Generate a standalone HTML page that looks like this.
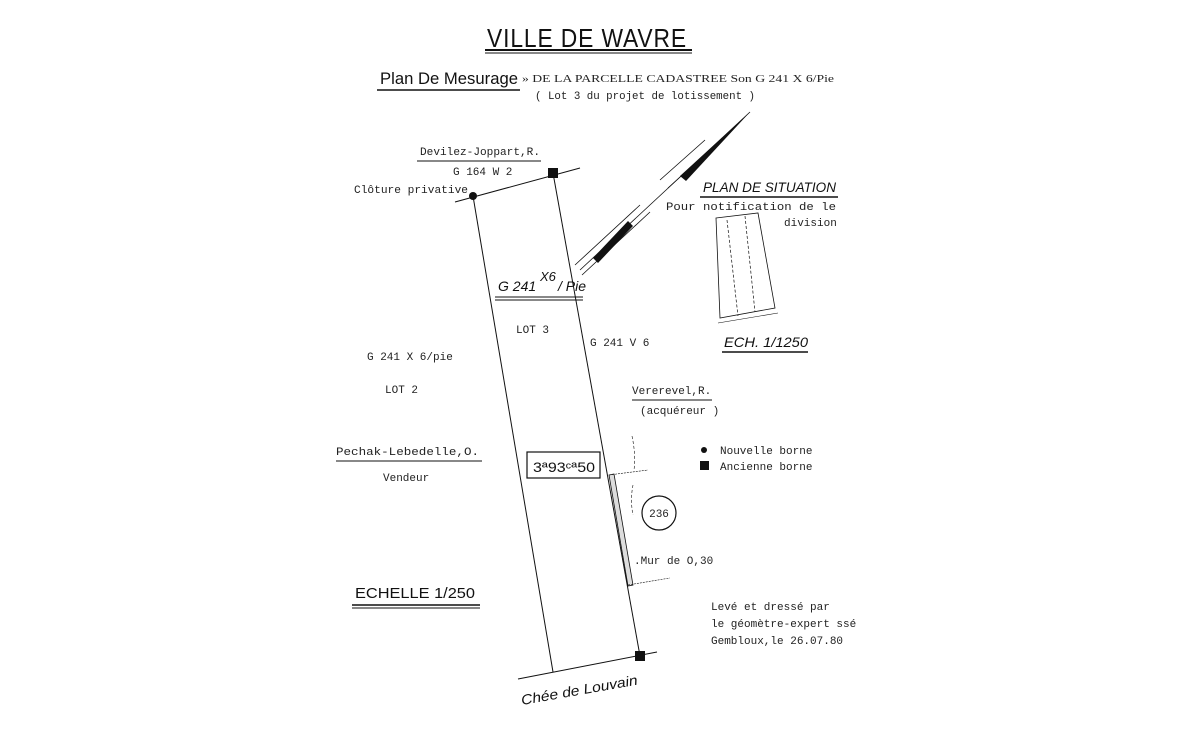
<!DOCTYPE html>
<html><head><meta charset="utf-8"><style>
html,body{margin:0;padding:0;background:#fff}
svg{display:block}
.m{font-family:"Liberation Mono",monospace;font-size:11px;fill:#222}
.s{font-family:"Liberation Sans",sans-serif;fill:#111}
.i{font-family:"Liberation Sans",sans-serif;font-style:italic;fill:#111}
</style></head><body>
<svg width="1200" height="730" viewBox="0 0 1200 730" xmlns="http://www.w3.org/2000/svg">
<g stroke="#111" fill="none">
<!-- title -->
<line x1="485" y1="50" x2="692" y2="50" stroke-width="2"/>
<line x1="485" y1="53" x2="692" y2="53" stroke-width="1"/>
<line x1="377" y1="90" x2="520" y2="90" stroke-width="1.5"/>
<!-- parcel -->
<line x1="473" y1="196" x2="553" y2="672" stroke-width="1"/>
<line x1="553" y1="173" x2="640" y2="656" stroke-width="1"/>
<line x1="455" y1="202" x2="580" y2="168" stroke-width="1"/>
<line x1="518" y1="679" x2="657" y2="652" stroke-width="1"/>
<!-- labels underlines -->
<line x1="417" y1="161" x2="541" y2="161" stroke-width="1"/>
<line x1="495" y1="297" x2="583" y2="297" stroke-width="1"/>
<line x1="495" y1="300" x2="583" y2="300" stroke-width="1"/>
<line x1="632" y1="400" x2="712" y2="400" stroke-width="1"/>
<line x1="336" y1="461" x2="482" y2="461" stroke-width="1"/>
<line x1="700" y1="197" x2="838" y2="197" stroke-width="1.5"/>
<line x1="722" y1="352" x2="808" y2="352" stroke-width="1.5"/>
<line x1="352" y1="605" x2="480" y2="605" stroke-width="1.5"/>
<line x1="352" y1="608" x2="480" y2="608" stroke-width="1"/>
<!-- north arrow -->
<line x1="575" y1="265" x2="640" y2="205" stroke-width="0.8"/>
<line x1="582" y1="275" x2="650" y2="212" stroke-width="0.8"/>
<line x1="660" y1="180" x2="705" y2="140" stroke-width="0.8"/>
<line x1="668" y1="188" x2="712" y2="148" stroke-width="0.8"/>
<line x1="580" y1="270" x2="750" y2="112" stroke-width="0.8"/>
<polygon points="593,258 598,263 633,226 628,221" fill="#111" stroke="none"/>
<polygon points="680,176 686,181 750,112" fill="#111" stroke="none"/>
<!-- box -->
<rect x="527" y="452" width="73" height="26" stroke-width="1.2"/>
<circle cx="659" cy="513" r="17" stroke-width="1.2"/>
<!-- mur -->
<polygon points="609,475 614,474 633,585 628,586" stroke-width="0.8" fill="#ddd"/>
<line x1="609" y1="475" x2="648" y2="470" stroke-width="0.6" stroke-dasharray="2,1"/>
<line x1="628" y1="585" x2="670" y2="578" stroke-width="0.6" stroke-dasharray="2,1"/>
<path d="M632,436 Q636,455 634,470 M633,485 Q630,500 633,515" stroke-width="0.6" stroke-dasharray="3,2"/>
<!-- situation sketch -->
<polygon points="716,218 758,213 775,308 720,318" stroke-width="0.8"/>
<line x1="727" y1="220" x2="738" y2="316" stroke-width="0.7" stroke-dasharray="3,2"/>
<line x1="745" y1="216" x2="755" y2="312" stroke-width="0.7" stroke-dasharray="3,2"/>
<line x1="718" y1="323" x2="778" y2="313" stroke-width="0.6"/>
</g>
<circle cx="473" cy="196" r="4" fill="#111"/>
<rect x="548" y="168" width="10" height="10" fill="#111"/>
<rect x="635" y="651" width="10" height="10" fill="#111"/>
<circle cx="704" cy="450" r="3" fill="#111"/>
<rect x="700" y="461" width="9" height="9" fill="#111"/>

<text x="587" y="47" class="s" font-size="26" text-anchor="middle" letter-spacing="1" textLength="200" lengthAdjust="spacingAndGlyphs">VILLE  DE  WAVRE</text>
<text x="380" y="84" class="s" font-size="17" textLength="138" lengthAdjust="spacingAndGlyphs">Plan De Mesurage</text>
<text x="522" y="82" class="m" font-family="Liberation Serif" style="font-family:'Liberation Serif',serif" font-size="11" textLength="312" lengthAdjust="spacingAndGlyphs">» DE LA PARCELLE CADASTREE Son G 241 X 6/Pie</text>
<text x="535" y="99" class="m" textLength="220" lengthAdjust="spacingAndGlyphs">( Lot 3 du projet de lotissement )</text>
<text x="420" y="155" class="m" textLength="120" lengthAdjust="spacingAndGlyphs">Devilez-Joppart,R.</text>
<text x="453" y="175" class="m">G 164 W 2</text>
<text x="354" y="193" class="m" textLength="114" lengthAdjust="spacingAndGlyphs">Clôture privative</text>
<text x="498" y="291" class="i" font-size="14">G 241</text>
<text x="540" y="281" class="i" font-size="13">X6</text>
<text x="558" y="291" class="i" font-size="14">/ Pie</text>
<text x="516" y="333" class="m">LOT 3</text>
<text x="590" y="346" class="m">G 241 V 6</text>
<text x="367" y="360" class="m">G 241 X 6/pie</text>
<text x="385" y="393" class="m">LOT 2</text>
<text x="632" y="394" class="m">Vererevel,R.</text>
<text x="640" y="414" class="m">(acquéreur )</text>
<text x="336" y="455" class="m" textLength="143" lengthAdjust="spacingAndGlyphs">Pechak-Lebedelle,O.</text>
<text x="383" y="481" class="m">Vendeur</text>
<text x="533" y="472" class="i" font-size="14" style="font-style:normal" textLength="62" lengthAdjust="spacingAndGlyphs">3ª93ᶜª50</text>
<text x="720" y="454" class="m">Nouvelle borne</text>
<text x="720" y="470" class="m">Ancienne borne</text>
<text x="659" y="517" class="m" font-size="10" text-anchor="middle">236</text>
<text x="634" y="564" class="m">.Mur de O,30</text>
<text x="703" y="192" class="i" font-size="14" textLength="133" lengthAdjust="spacingAndGlyphs">PLAN DE SITUATION</text>
<text x="666" y="210" class="m" textLength="170" lengthAdjust="spacingAndGlyphs">Pour notification de le</text>
<text x="784" y="226" class="m">division</text>
<text x="724" y="347" class="i" font-size="14" textLength="84" lengthAdjust="spacingAndGlyphs">ECH. 1/1250</text>
<text x="355" y="598" class="s" font-size="15" textLength="120" lengthAdjust="spacingAndGlyphs">ECHELLE  1/250</text>
<text x="711" y="610" class="m">Levé et dressé par</text>
<text x="711" y="627" class="m">le géomètre-expert ssé</text>
<text x="711" y="644" class="m">Gembloux,le 26.07.80</text>
<text x="522" y="705" class="i" font-size="14" transform="rotate(-10 522 705)" textLength="118" lengthAdjust="spacingAndGlyphs">Chée de Louvain</text>
</svg>
</body></html>
